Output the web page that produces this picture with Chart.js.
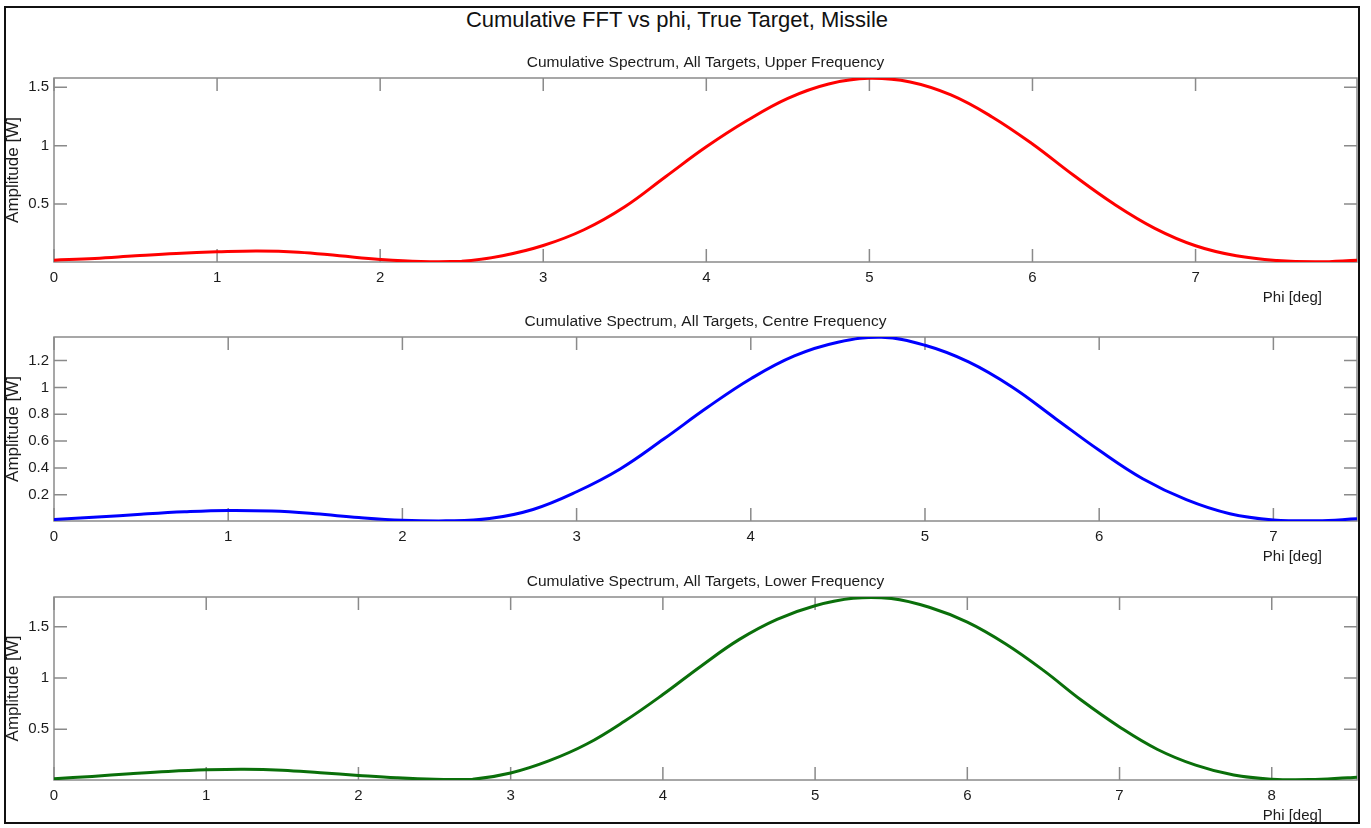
<!DOCTYPE html>
<html>
<head>
<meta charset="utf-8">
<title>Cumulative FFT vs phi</title>
<script src="https://cdn.jsdelivr.net/npm/chart.js@4.4.1/dist/chart.umd.min.js"></script>
<style>
  html, body { margin: 0; padding: 0; background: #fff; }
  body { width: 1371px; height: 828px; position: relative; overflow: hidden; font-family: 'Liberation Sans', Arial, sans-serif; }
  #frame { position: absolute; left: 4px; top: 6px; width: 1356px; height: 818px; box-sizing: border-box; border: 2px solid #111; }
  #mainTitle { position: absolute; left: 0; top: 7px; width: 1354px; text-align: center; font-size: 22px; line-height: 26px; color: #111; }
  .panel { position: absolute; left: 0; }
</style>
</head>
<body>
<div id="frame"></div>
<div id="mainTitle">Cumulative FFT vs phi, True Target, Missile</div>
<canvas class="panel" id="upperChart" width="1371" height="266" style="top:40px"></canvas>
<canvas class="panel" id="centreChart" width="1371" height="266" style="top:299px"></canvas>
<canvas class="panel" id="lowerChart" width="1371" height="265" style="top:559px"></canvas>
<script>
// phi [deg] samples and cumulative amplitude [W] per frequency band
var phiUpper = [0, 0.25, 0.5, 0.75, 1, 1.25, 1.5, 1.75, 2, 2.25, 2.5, 2.75, 3, 3.25, 3.5, 3.75, 4,
  4.25, 4.5, 4.75, 5, 5.25, 5.5, 5.75, 6, 6.25, 6.5, 6.75, 7, 7.25, 7.5, 7.75, 7.99];
var ampUpper = [0.02, 0.035, 0.057, 0.077, 0.091, 0.099, 0.088, 0.057, 0.026, 0.008, 0.01, 0.058, 0.145, 0.28, 0.477, 0.734, 0.99,
  1.215, 1.405, 1.528, 1.577, 1.545, 1.434, 1.248, 1.014, 0.748, 0.5, 0.292, 0.143, 0.057, 0.017, 0.006, 0.02];

var phiCentre = [0, 0.25, 0.5, 0.75, 1, 1.25, 1.5, 1.75, 2, 2.25, 2.5, 2.75, 3, 3.25, 3.5, 3.75, 4,
  4.25, 4.5, 4.75, 5, 5.25, 5.5, 5.75, 6, 6.25, 6.5, 6.75, 7, 7.25, 7.48];
var ampCentre = [0.015, 0.033, 0.055, 0.073, 0.083, 0.078, 0.058, 0.03, 0.01, 0.005, 0.022, 0.09, 0.222, 0.392, 0.615, 0.85, 1.065,
  1.235, 1.337, 1.374, 1.314, 1.19, 1.003, 0.767, 0.531, 0.319, 0.163, 0.058, 0.012, 0.006, 0.02];

var phiLower = [0, 0.25, 0.5, 0.75, 1, 1.25, 1.5, 1.75, 2, 2.25, 2.5, 2.75, 3, 3.25, 3.5, 3.75, 4,
  4.25, 4.5, 4.75, 5, 5.25, 5.5, 5.75, 6, 6.25, 6.5, 6.75, 7, 7.25, 7.5, 7.75, 8, 8.25, 8.5, 8.56];
var ampLower = [0.016, 0.039, 0.065, 0.088, 0.104, 0.11, 0.1, 0.075, 0.049, 0.026, 0.012, 0.012, 0.072, 0.19, 0.355, 0.58, 0.838,
  1.115, 1.374, 1.572, 1.705, 1.778, 1.776, 1.69, 1.545, 1.334, 1.074, 0.782, 0.522, 0.302, 0.149, 0.052, 0.012, 0.008, 0.025, 0.03];

// tick positions
var xTicksUpper = [0, 1, 2, 3, 4, 5, 6, 7];
var xTicksCentre = [0, 1, 2, 3, 4, 5, 6, 7];
var xTicksLower = [0, 1, 2, 3, 4, 5, 6, 7, 8];
var yTicksUpper = [0.5, 1, 1.5];
var yTicksCentre = [0.2, 0.4, 0.6, 0.8, 1, 1.2];
var yTicksLower = [0.5, 1, 1.5];

var AXIS_GREY = '#8a8a8a';
var TEXT = '#1c1c1c';
var FONT = "'Liberation Sans', Arial, sans-serif";
var TICK_LEN = 13;

// MATLAB-style box with inward ticks on all four sides, plus the x label at the right
var axesBox = {
  id: 'axesBox',
  beforeDatasetsDraw: function(chart) {
    var ctx = chart.ctx, a = chart.chartArea, xs = chart.scales.x, ys = chart.scales.y;
    ctx.save();
    ctx.strokeStyle = AXIS_GREY;
    ctx.lineWidth = 1.5;
    ctx.strokeRect(a.left, a.top, a.right - a.left, a.bottom - a.top);
    ctx.beginPath();
    xs.ticks.forEach(function(t) {
      var px = xs.getPixelForValue(t.value);
      ctx.moveTo(px, a.bottom); ctx.lineTo(px, a.bottom - TICK_LEN);
      ctx.moveTo(px, a.top); ctx.lineTo(px, a.top + TICK_LEN);
    });
    ys.ticks.forEach(function(t) {
      var py = ys.getPixelForValue(t.value);
      ctx.moveTo(a.left, py); ctx.lineTo(a.left + TICK_LEN, py);
      ctx.moveTo(a.right, py); ctx.lineTo(a.right - TICK_LEN, py);
    });
    ctx.stroke();
    ctx.restore();
  },
  afterDraw: function(chart) {
    var ctx = chart.ctx, a = chart.chartArea;
    ctx.save();
    ctx.fillStyle = TEXT;
    ctx.font = '15px ' + FONT;
    ctx.textAlign = 'right';
    ctx.textBaseline = 'middle';
    ctx.fillText('Phi [deg]', a.right - 35, a.bottom + 36);
    ctx.restore();
  }
};

function fmt(v) { return String(Math.round(v * 100) / 100); }

function makeChart(id, subtitle, phi, amp, colour, xTicks, yTicks, yMin, yMax) {
  var el = document.getElementById(id);
  if (!el) return;
  var points = phi.map(function(p, i) { return { x: p, y: amp[i] }; });
  new Chart(el.getContext('2d'), {
    type: 'line',
    data: {
      datasets: [{
        data: points,
        borderColor: colour,
        borderWidth: 3,
        pointRadius: 0,
        fill: false,
        tension: 0.4
      }]
    },
    options: {
      responsive: false,
      animation: false,
      events: [],
      layout: { padding: { left: 0, right: 14, top: 0, bottom: 0 } },
      plugins: {
        legend: { display: false },
        tooltip: { enabled: false },
        title: {
          display: true,
          fullSize: false,
          text: subtitle,
          color: TEXT,
          font: { family: FONT, size: 15.5, weight: 'normal', lineHeight: 1.2 },
          padding: { top: 13, bottom: 6.4 }
        }
      },
      scales: {
        x: {
          type: 'linear',
          min: 0,
          max: phi[phi.length - 1],
          grid: { display: false, drawTicks: false },
          border: { display: false },
          afterBuildTicks: function(s) { s.ticks = xTicks.map(function(v) { return { value: v }; }); },
          afterFit: function(s) { s.height = 44; },
          ticks: { color: TEXT, padding: 7, font: { family: FONT, size: 15 }, callback: fmt, maxRotation: 0, autoSkip: false }
        },
        y: {
          type: 'linear',
          min: yMin,
          max: yMax,
          grid: { display: false, drawTicks: false },
          border: { display: false },
          afterBuildTicks: function(s) { s.ticks = yTicks.map(function(v) { return { value: v }; }); },
          afterFit: function(s) { s.width = 54; },
          ticks: { color: TEXT, padding: 5, font: { family: FONT, size: 15 }, callback: fmt, autoSkip: false },
          title: {
            display: true,
            text: 'Amplitude [W]',
            color: TEXT,
            font: { family: FONT, size: 17, weight: 'normal' },
            padding: { top: 3, bottom: 0 }
          }
        }
      }
    },
    plugins: [axesBox]
  });
}

makeChart('upperChart', 'Cumulative Spectrum, All Targets, Upper Frequency',
  phiUpper, ampUpper, '#ff0000', xTicksUpper, yTicksUpper, 0.004, 1.579);
makeChart('centreChart', 'Cumulative Spectrum, All Targets, Centre Frequency',
  phiCentre, ampCentre, '#0000ff', xTicksCentre, yTicksCentre, 0.004, 1.376);
makeChart('lowerChart', 'Cumulative Spectrum, All Targets, Lower Frequency',
  phiLower, ampLower, '#0a6f0a', xTicksLower, yTicksLower, 0.004, 1.79);
</script>
</body>
</html>
